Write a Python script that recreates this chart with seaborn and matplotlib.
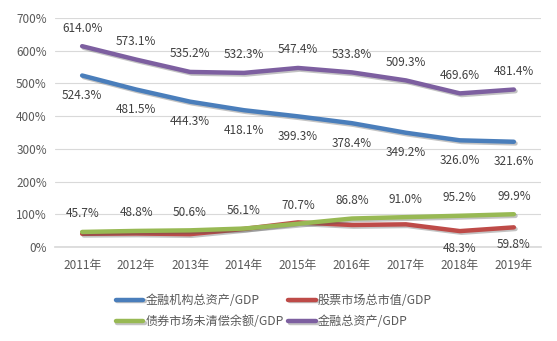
import matplotlib
matplotlib.use("Agg")
import matplotlib.pyplot as plt
import matplotlib.patheffects as pe
import seaborn as sns
import pandas as pd

years = ["2011年", "2012年", "2013年", "2014年", "2015年", "2016年", "2017年", "2018年", "2019年"]
fin_inst = [524.3, 481.5, 444.3, 418.1, 399.3, 378.4, 349.2, 326.0, 321.6]
stock = [40, 41, 39, 55, 75, 67, 69, 48.3, 59.8]
bond = [45.7, 48.8, 50.6, 56.1, 70.7, 86.8, 91.0, 95.2, 99.9]
fin_total = [614.0, 573.1, 535.2, 532.3, 547.4, 533.8, 509.3, 469.6, 481.4]

names = ["金融机构总资产/GDP", "股票市场总市值/GDP", "债券市场未清偿余额/GDP", "金融总资产/GDP"]
colors = ["#4A7EBB", "#BE4B48", "#98B954", "#7D5FA0"]

sns.set_theme(style="white")
plt.rcParams["font.family"] = ["Noto Sans CJK SC", "DejaVu Sans"]

rows = []
for n, vals in zip(names, [fin_inst, stock, bond, fin_total]):
    for i, v in enumerate(vals):
        rows.append({"x": i, "year": years[i], "value": v, "series": n})
df = pd.DataFrame(rows)

fig = plt.figure(figsize=(5.57, 3.41), dpi=100)
ax = fig.add_axes([0.099, 0.276, 0.872, 0.671])

sns.lineplot(data=df, x="x", y="value", hue="series", hue_order=names,
             palette=colors, linewidth=3.2, ax=ax, legend=True, sort=False)
for line in ax.lines:
    line.set_path_effects([pe.SimpleLineShadow(offset=(1.2, -1.2), alpha=0.35, shadow_color="#555555"),
                           pe.Normal()])
    line.set_solid_capstyle("round")

ax.set_xlim(-0.5, 8.5)
ax.set_ylim(0, 700)
ax.set_yticks(range(0, 701, 100))
ax.set_yticklabels([f"{v}%" for v in range(0, 701, 100)])
ax.set_xticks(range(len(years)))
ax.set_xticklabels(years)
ax.tick_params(axis="both", colors="#595959", labelsize=8.5, length=0)
ax.tick_params(axis="x", pad=9)
ax.tick_params(axis="y", pad=6)
ax.set_xlabel("")
ax.set_ylabel("")
ax.grid(axis="y", color="#D9D9D9", linewidth=0.8)
for s in ["top", "right", "left"]:
    ax.spines[s].set_visible(False)
ax.spines["bottom"].set_color("#D9D9D9")

lab_kw = dict(ha="center", va="center", fontsize=8.5, color="#404040")
for i in range(len(years)):
    ax.annotate(f"{fin_total[i]:.1f}%", (i, fin_total[i]), xytext=(0, 18), textcoords="offset pixels", **lab_kw)
    ax.annotate(f"{fin_inst[i]:.1f}%", (i, fin_inst[i]), xytext=(0, -20), textcoords="offset pixels", **lab_kw)
    ax.annotate(f"{bond[i]:.1f}%", (i, bond[i]), xytext=(0, 18), textcoords="offset pixels", **lab_kw)
for i in [7, 8]:
    ax.annotate(f"{stock[i]:.1f}%", (i, stock[i]), xytext=(0, -17), textcoords="offset pixels", **lab_kw)

handles, labels = ax.get_legend_handles_labels()
ax.legend_.remove()
order = [0, 2, 1, 3]
fig.legend([handles[k] for k in order], [labels[k] for k in order],
           loc="upper left", bbox_to_anchor=(0.188, 0.17), ncol=2,
           frameon=False, fontsize=8.7, handlelength=2.3, handletextpad=0.15,
           columnspacing=0.4, labelspacing=0.7, labelcolor="#595959")

fig.savefig("out.png", dpi=100)
